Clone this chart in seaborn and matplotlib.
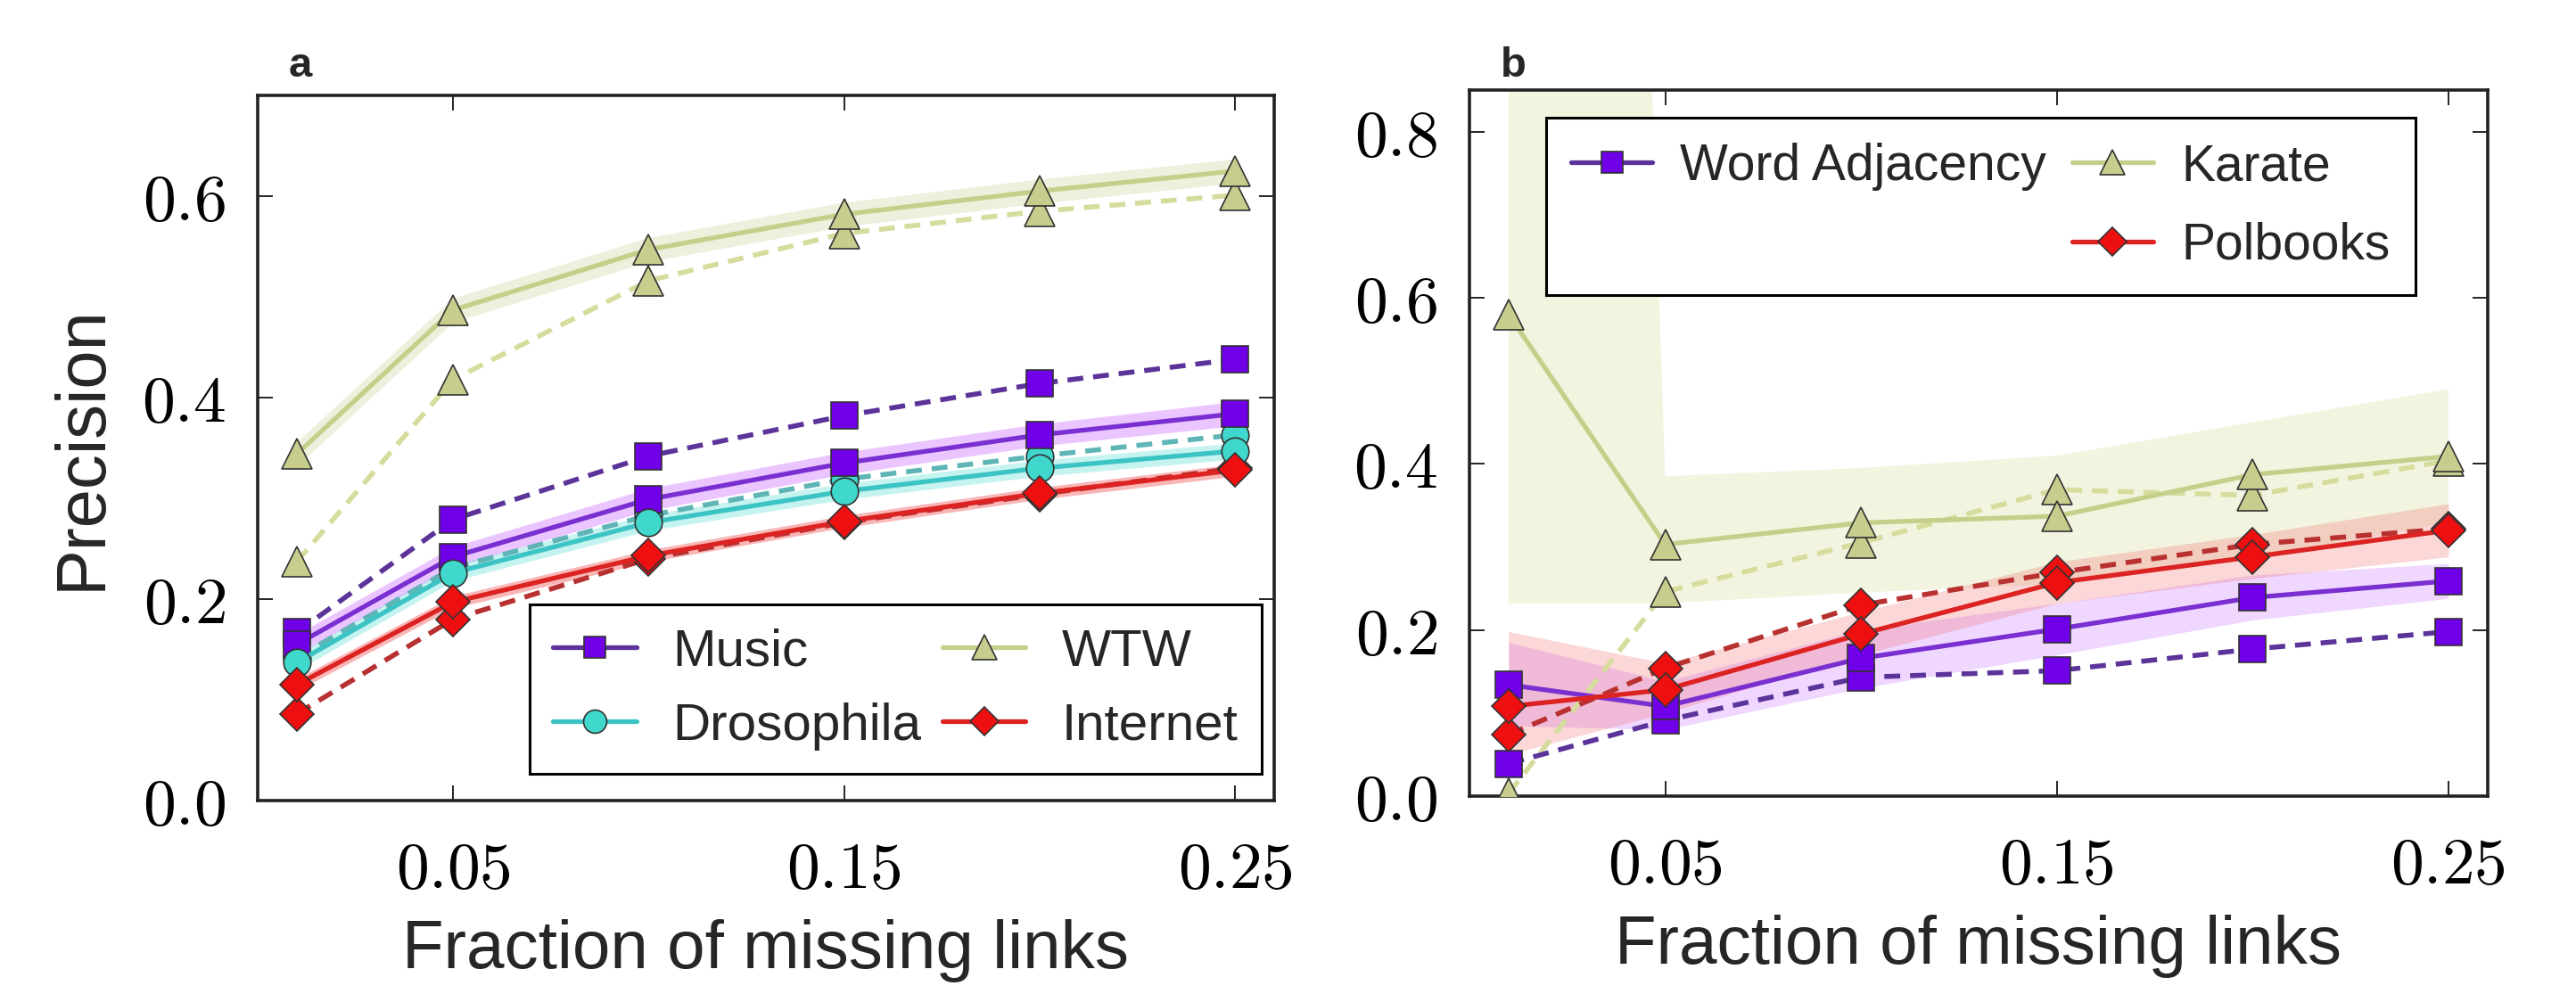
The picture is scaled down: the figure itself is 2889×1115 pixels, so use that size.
import numpy as np
import pandas as pd
import matplotlib
matplotlib.use("Agg")
import matplotlib.pyplot as plt
import seaborn as sns
from matplotlib.lines import Line2D

# x values (fraction of missing links)
frac = [0.01, 0.05, 0.10, 0.15, 0.20, 0.25]
xticks = [0.05, 0.15, 0.25]
xtick_labels = ["0.05", "0.15", "0.25"]
yticks_a = [0.0, 0.2, 0.4, 0.6]
yticks_b = [0.0, 0.2, 0.4, 0.6, 0.8]

# panel a -- solid lines (with band) and dashed lines
music_solid = [0.155, 0.242, 0.299, 0.335, 0.363, 0.384]
music_dash = [0.167, 0.279, 0.342, 0.382, 0.414, 0.438]
music_band = [0.010, 0.010, 0.011, 0.011, 0.011, 0.012]

dros_solid = [0.137, 0.226, 0.276, 0.307, 0.330, 0.347]
dros_dash = [0.142, 0.231, 0.283, 0.319, 0.342, 0.363]
dros_band = [0.008, 0.008, 0.008, 0.008, 0.008, 0.008]

wtw_solid = [0.344, 0.487, 0.547, 0.582, 0.605, 0.625]
wtw_dash = [0.237, 0.418, 0.516, 0.563, 0.585, 0.601]
wtw_band = [0.012, 0.012, 0.012, 0.012, 0.012, 0.012]

inet_solid = [0.115, 0.197, 0.243, 0.277, 0.305, 0.328]
inet_dash = [0.086, 0.180, 0.240, 0.276, 0.304, 0.330]
inet_band = [0.006, 0.006, 0.006, 0.006, 0.006, 0.006]

# panel b
word_solid = [0.134, 0.108, 0.166, 0.201, 0.239, 0.259]
word_dash = [0.039, 0.091, 0.143, 0.151, 0.177, 0.198]
word_lo = [0.085, 0.080, 0.130, 0.170, 0.212, 0.238]
word_hi = [0.185, 0.138, 0.200, 0.232, 0.266, 0.280]

karate_solid = [0.580, 0.303, 0.329, 0.337, 0.387, 0.409]
karate_dash = [0.003, 0.246, 0.305, 0.369, 0.362, 0.404]
karate_lo = [0.232, 0.232, 0.245, 0.255, 0.285, 0.330]
karate_hi = [6.000, 0.385, 0.395, 0.410, 0.450, 0.490]

polb_solid = [0.108, 0.128, 0.195, 0.257, 0.288, 0.320]
polb_dash = [0.074, 0.154, 0.230, 0.269, 0.303, 0.322]
polb_lo = [0.050, 0.100, 0.170, 0.232, 0.262, 0.288]
polb_hi = [0.198, 0.160, 0.222, 0.282, 0.315, 0.352]

PURPLE = "#7000e8"
PURPLE_LINE = "#7a2fd0"
PURPLE_DASH = "#5b3399"
TEAL = "#40d8cc"
TEAL_LINE = "#3cc4c4"
TEAL_DASH = "#5fb5b5"
KHAKI = "#c8cc8c"
KHAKI_LINE = "#c4d08a"
KHAKI_DASH = "#d6dc9c"
RED = "#ee1010"
RED_LINE = "#dd2222"
RED_DASH = "#b83030"

MS = {"s": 21, "o": 22, "D": 19, "^": 24}

sns.set_theme(style="ticks")
plt.rcParams["font.family"] = ["Liberation Sans", "DejaVu Sans"]
plt.rcParams["mathtext.fontset"] = "cm"

fig = plt.figure(figsize=(28.89, 11.15), dpi=100)
ax_a = fig.add_axes([0.1000, 0.1946, 0.3946, 0.7094])
ax_b = fig.add_axes([0.5704, 0.1991, 0.3953, 0.7103])


def draw(ax, y, color, lw, ls, marker, mfc, z):
    df = pd.DataFrame({"frac": frac, "prec": y})
    sns.lineplot(data=df, x="frac", y="prec", ax=ax, color=color, lw=lw,
                 linestyle=ls, marker=marker, markerfacecolor=mfc,
                 markeredgecolor="#333333", markeredgewidth=1.2,
                 markersize=MS[marker], errorbar=None, zorder=z)


def series(ax, solid, dash, lo, hi, line_c, dash_c, band_c, band_a, marker, mfc):
    ax.fill_between(frac, lo, hi, color=band_c, alpha=band_a, lw=0, zorder=1)
    draw(ax, dash, dash_c, 4.0, (0, (3.2, 2.0)), marker, mfc, 3)
    draw(ax, solid, line_c, 3.8, "-", marker, mfc, 4)


# ---- panel a ----
lo = lambda m, b: [v - e for v, e in zip(m, b)]
hi = lambda m, b: [v + e for v, e in zip(m, b)]
series(ax_a, wtw_solid, wtw_dash, lo(wtw_solid, wtw_band), hi(wtw_solid, wtw_band),
       KHAKI_LINE, KHAKI_DASH, KHAKI, 0.3, "^", KHAKI)
series(ax_a, music_solid, music_dash, lo(music_solid, music_band), hi(music_solid, music_band),
       PURPLE_LINE, PURPLE_DASH, "#c040ff", 0.3, "s", PURPLE)
series(ax_a, dros_solid, dros_dash, lo(dros_solid, dros_band), hi(dros_solid, dros_band),
       TEAL_LINE, TEAL_DASH, TEAL, 0.3, "o", TEAL)
series(ax_a, inet_solid, inet_dash, lo(inet_solid, inet_band), hi(inet_solid, inet_band),
       RED_LINE, RED_DASH, RED, 0.3, "D", RED)

# ---- panel b ----
series(ax_b, karate_solid, karate_dash, karate_lo, karate_hi,
       KHAKI_LINE, KHAKI_DASH, "#e4e8bc", 0.45, "^", KHAKI)
series(ax_b, word_solid, word_dash, word_lo, word_hi,
       PURPLE_LINE, PURPLE_DASH, "#c060ff", 0.25, "s", PURPLE)
series(ax_b, polb_solid, polb_dash, polb_lo, polb_hi,
       RED_LINE, RED_DASH, "#f06060", 0.25, "D", RED)

for ax, yt, ylim in [(ax_a, yticks_a, (0, 0.7)), (ax_b, yticks_b, (0, 0.85))]:
    ax.set_xlim(0, 0.26)
    ax.set_ylim(*ylim)
    ax.set_xticks(xticks)
    ax.set_xticklabels([f"${t}$" for t in xtick_labels])
    ax.set_yticks(yt)
    ax.set_yticklabels([f"${t:.1f}$" for t in yt])
    ax.tick_params(direction="in", length=12, width=1.2, top=True, right=True,
                   labelsize=53, colors="black")
    ax.tick_params(axis="x", pad=32)
    ax.tick_params(axis="y", pad=26)
    for sp in ax.spines.values():
        sp.set_color("#222222")
        sp.set_linewidth(2.6)
    ax.set_xlabel("Fraction of missing links", fontsize=55, labelpad=14)
    ax.set_ylabel("")

ax_a.set_ylabel("Precision", fontsize=56, labelpad=22)

fig.text(0.1166, 0.934, "a", fontsize=34, fontweight="bold", ha="center", va="center")
fig.text(0.5874, 0.934, "b", fontsize=34, fontweight="bold", ha="center", va="center")


def handle(line_c, marker, mfc):
    return Line2D([], [], color=line_c, lw=3.8, marker=marker, markerfacecolor=mfc,
                  markeredgecolor="#333333", markeredgewidth=1.2,
                  markersize=MS[marker] * 0.85)


h_music = handle(PURPLE_DASH, "s", PURPLE)
h_dros = handle(TEAL_LINE, "o", TEAL)
h_wtw = handle(KHAKI_LINE, "^", KHAKI)
h_inet = handle(RED_LINE, "D", RED)
leg_a = ax_a.legend([h_music, h_dros, h_wtw, h_inet],
                    ["Music", "Drosophila", "WTW", "Internet"],
                    ncol=2, loc="lower right", bbox_to_anchor=(0.988, 0.038),
                    borderaxespad=0, fontsize=42, frameon=True, fancybox=False,
                    framealpha=1, edgecolor="black", handlelength=1.6,
                    handletextpad=0.7, columnspacing=0.4, labelspacing=0.5,
                    borderpad=0.45, numpoints=1)
leg_a.get_frame().set_linewidth(2.2)

blank = Line2D([], [], alpha=0)
h_word = handle(PURPLE_DASH, "s", PURPLE)
h_kar = handle(KHAKI_LINE, "^", KHAKI)
h_pol = handle(RED_LINE, "D", RED)
leg_b = ax_b.legend([h_word, blank, h_kar, h_pol],
                    ["Word Adjacency", " ", "Karate", "Polbooks"],
                    ncol=2, loc="upper left", bbox_to_anchor=(0.075, 0.961),
                    borderaxespad=0, fontsize=41, frameon=True, fancybox=False,
                    framealpha=1, edgecolor="black", handlelength=1.6,
                    handletextpad=0.55, columnspacing=0.5, labelspacing=0.6,
                    borderpad=0.5, numpoints=1)
leg_b.get_frame().set_linewidth(2.2)

fig.savefig("out.png", dpi=100, facecolor="white")
